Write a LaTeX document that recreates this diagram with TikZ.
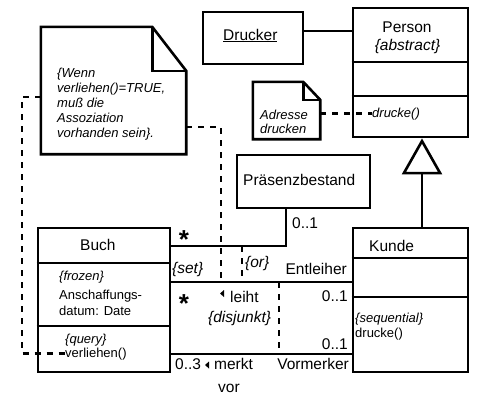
\documentclass[tikz,border=0pt]{standalone}
\usepackage{fontspec}
\setmainfont{Liberation Sans}
\usetikzlibrary{arrows.meta}
\newcommand\fmain{\fontsize{15.5}{18}\selectfont}
\newcommand\fsmall{\fontsize{13}{15}\selectfont}
\tikzset{
  cls/.style={draw,line width=2.8pt,inner sep=0pt},
  notearea/.style={inner sep=0pt},
  notebox/.style={line width=2.6pt,line join=miter},
  txt/.style={font=\fmain,inner sep=0pt},
  itxt/.style={font=\fmain\itshape,inner sep=0pt},
  stxt/.style={font=\fsmall,inner sep=0pt},
  sitxt/.style={font=\fsmall\itshape,inner sep=0pt,align=left},
  star/.style={font=\fontsize{26}{26}\selectfont\bfseries,inner sep=0pt},
  assoc/.style={line width=2.8pt},
  link/.style={line width=2pt},
  dep/.style={line width=2.6pt,dash pattern=on 6pt off 6pt},
  gen/.style={line width=2.8pt,-{Triangle[open,length=36pt,width=40pt,line width=2.6pt]}},
  % reading direction
  pics/dirtri/.style={code={\fill (0,0) -- (4,-3.5) -- (4,3.5) -- cycle;}},
}
\begin{document}
\begin{tikzpicture}[x=1pt,y=-1pt]
  \useasboundingbox (0,0) rectangle (500,400);
  % classes
  \node[cls,minimum width=115pt,minimum height=129pt] (person) at (410.5,72.5) {};
  \draw[assoc] (person.west |- 0,62) -- (person.east |- 0,62);
  \draw[assoc] (person.west |- 0,96) -- (person.east |- 0,96);
  \node[txt,anchor=base] (personname) at (407,32) {Person};
  \node[itxt,anchor=base] (abstract) at (407.5,50) {\{abstract\}};
  \node[stxt,font=\fsmall\itshape,anchor=base west] (druckeop) at (372,117) {drucke()};

  \node[cls,minimum width=100pt,minimum height=52pt] (drucker) at (253,38) {};
  \node[txt,anchor=base west] (druckername) at (223,40) {\underline{Drucker}};

  \node[cls,minimum width=133pt,minimum height=53pt] (praes) at (303.5,181.5) {};
  \node[txt,anchor=base west] (praesname) at (243,185) {Präsenzbestand};

  \node[cls,minimum width=132pt,minimum height=144pt] (buch) at (104,300) {};
  \draw[assoc] (buch.west |- 0,263) -- (buch.east |- 0,263);
  \draw[assoc] (buch.west |- 0,326) -- (buch.east |- 0,326);
  \node[txt,anchor=base west] (buchname) at (80,250) {Buch};
  \node[sitxt,anchor=base west] (frozen) at (59,280) {\{frozen\}};
  \node[stxt,anchor=base west] (ansch) at (59,299) {Anschaffungs-};
  \node[stxt,anchor=base west] (datum) at (59,315) {datum: Date};
  \node[sitxt,anchor=base west] (query) at (65,343) {\{query\}};
  \node[stxt,anchor=base west] (verl) at (65,357) {verliehen()};

  \node[cls,minimum width=115pt,minimum height=144pt] (kunde) at (410.5,300) {};
  \draw[assoc] (kunde.west |- 0,258) -- (kunde.east |- 0,258);
  \draw[assoc] (kunde.west |- 0,297) -- (kunde.east |- 0,297);
  \node[txt,anchor=base west] (kundename) at (369,251) {Kunde};
  \node[sitxt,anchor=base west] (seq) at (355,322) {\{sequential\}};
  \node[stxt,anchor=base west] (druckekd) at (355,337) {drucke()};

  % notes
  \node[notearea,minimum width=145pt,minimum height=127pt] (bignote) at (113.5,90.5) {};
  \draw[notebox] (bignote.south west) -- (bignote.north west) -- ([xshift=-34pt]bignote.north east)
    -- ([yshift=-44pt]bignote.north east) -- (bignote.south east) -- cycle;
  \draw[notebox] ([xshift=-34pt]bignote.north east) |- ([yshift=-44pt]bignote.north east);
  \node[sitxt,anchor=north west,font=\fontsize{13}{15}\selectfont\itshape] (wenn) at (57,67.5)
    {\{Wenn\\verliehen()=TRUE,\\muß die\\Assoziation\\vorhanden sein\}.};

  \node[notearea,minimum width=67pt,minimum height=57pt] (addr) at (286.5,110.5) {};
  \draw[notebox] (addr.south west) -- (addr.north west) -- ([xshift=-17pt]addr.north east)
    -- ([yshift=-18pt]addr.north east) -- (addr.south east) -- cycle;
  \draw[notebox] ([xshift=-17pt]addr.north east) |- ([yshift=-18pt]addr.north east);
  \node[sitxt,anchor=base west] (adresse) at (260,119) {Adresse};
  \node[sitxt,anchor=base west] (drucken) at (260,133) {drucken};

  % rows and columns of the associations
  \coordinate (r1) at (0,246);
  \coordinate (r2) at (0,282);
  \coordinate (r3) at (0,354);
  \coordinate (px) at (286,0);
  \coordinate (orx) at (242,0);
  \coordinate (dx) at (279,0);
  \coordinate (nx) at (221,0);
  \coordinate (lx) at (22,0);
  \coordinate (gx) at (422,0);

  % connectors
  \draw[link] (drucker.east |- 0,31) -- (person.west |- 0,31);
  \draw[gen] (kunde.north -| gx) -- (person.south -| gx);
  \draw[assoc] (buch.east |- r1) -| (praes.south -| px);
  \draw[assoc] (buch.east |- r2) -- (kunde.west |- r2);
  \draw[assoc] (buch.east |- r3) -- (kunde.west |- r3);
  \draw[dep] (orx |- r1) -- (orx |- r2);
  \draw[dep] (dx |- r2) -- (dx |- r3);
  \draw[dep] (bignote.east |- 0,127) -| (nx |- r2);
  \draw[dep] (bignote.west |- 0,97) -| (lx |- verl.west) -- (verl.west);
  \draw[dep] (addr.east |- druckeop.west) -- (druckeop.west);

  % association labels
  \node[star,anchor=base] (m1) at (184,248) {*};
  \node[star,anchor=base] (m2) at (184,312) {*};
  \node[itxt,anchor=base west] (set) at (172,273) {\{set\}};
  \node[itxt,anchor=base west] (or) at (245,267) {\{or\}};
  \node[txt,anchor=base west] (praesmult) at (292,228) {0..1};
  \node[txt,anchor=base east] (entleiher) at (347,274) {Entleiher};
  \node[txt,anchor=base east] (leihtmult) at (348,301) {0..1};
  \node[txt,anchor=base east] (vormult) at (348,349) {0..1};
  \pic at (220,293.5) {dirtri};
  \node[txt,anchor=base west] (leiht) at (230,302) {leiht};
  \node[itxt,anchor=base west] (disjunkt) at (208,322) {\{disjunkt\}};
  \node[txt,anchor=base west] (merkmult) at (175,369) {0..3};
  \pic at (205,365) {dirtri};
  \node[txt,anchor=base west] (merkt) at (214,369) {merkt};
  \node[txt,anchor=base west] (vor) at (218,392) {vor};
  \node[txt,anchor=base east] (vormerker) at (349,369) {Vormerker};
\end{tikzpicture}
\end{document}
